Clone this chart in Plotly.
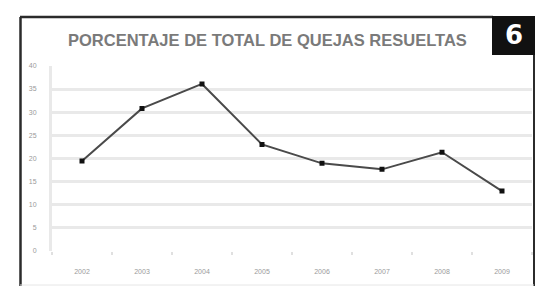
import plotly.graph_objects as go

years = ["2002", "2003", "2004", "2005", "2006", "2007", "2008", "2009"]
porcentaje = [19.4, 30.8, 36.1, 23.0, 18.9, 17.6, 21.3, 12.9]
y_ticks = [0, 5, 10, 15, 20, 25, 30, 35, 40]
title_text = "PORCENTAJE DE TOTAL DE QUEJAS RESUELTAS"
badge_text = "6"

W, H = 544, 289
OFF = 8  # default page body margin
FW, FH = W - OFF, H - OFF


def px(x):
    return (x - OFF) / FW


def py(y):
    return 1 - (y - OFF) / FH


fig = go.Figure()
fig.add_trace(go.Scatter(
    x=years, y=porcentaje, mode="lines+markers",
    line=dict(color="#4a4a4a", width=2),
    marker=dict(symbol="square", size=5, color="#111111"),
    showlegend=False, hoverinfo="skip",
))

frame = "#2b2b2b"
shapes = [
    dict(type="line", xref="paper", yref="paper", x0=px(20.5), x1=px(20.5), y0=py(13), y1=py(289), line=dict(color=frame, width=2.5)),
    dict(type="line", xref="paper", yref="paper", x0=px(20), x1=px(493), y0=py(13), y1=py(13), line=dict(color=frame, width=2.5)),
    dict(type="line", xref="paper", yref="paper", x0=px(534), x1=px(534), y0=py(13), y1=py(289), line=dict(color=frame, width=2)),
    dict(type="line", xref="paper", yref="paper", x0=px(20), x1=px(534), y0=py(288), y1=py(288), line=dict(color="#e6e6e6", width=1)),
    dict(type="rect", xref="paper", yref="paper", x0=px(492), x1=px(535), y0=py(52), y1=py(12), fillcolor="#111111", line=dict(width=0)),
]

annotations = [
    dict(text="<b>" + title_text + "</b>", xref="paper", yref="paper", x=px(267), y=py(37),
         showarrow=False, xanchor="center", yanchor="middle",
         font=dict(family="Liberation Sans Narrow, Arial Narrow, Liberation Sans, Arial", size=16.5, color="#7a7a7a")),
    dict(text="<b>" + badge_text + "</b>", xref="paper", yref="paper", x=px(513.5), y=py(32),
         showarrow=False, xanchor="center", yanchor="middle",
         font=dict(family="DejaVu Sans, Arial", size=26, color="#ffffff")),
]

fig.update_layout(
    width=FW, height=FH,
    margin=dict(l=0, r=0, t=0, b=0),
    paper_bgcolor="#ffffff", plot_bgcolor="#ffffff",
    shapes=shapes, annotations=annotations,
    xaxis=dict(
        domain=[px(52), px(532)], type="category", range=[-0.5, 7.5],
        showgrid=False, zeroline=False, showline=False,
        ticks="outside", tickson="boundaries", ticklen=3, tickwidth=1.5, tickcolor="#e0e0e0",
        ticklabelstandoff=15,
        tickfont=dict(family="Liberation Sans, Arial", size=7, color="#9a9a9a"),
        fixedrange=True,
    ),
    yaxis=dict(
        domain=[py(252.7), py(63.3)], range=[0, 40], tickvals=y_ticks,
        showgrid=True, gridcolor="#e9e9e9", gridwidth=3,
        zeroline=False, showline=True, linecolor="#e9e9e9", linewidth=3,
        ticks="", ticklabelstandoff=11,
        tickfont=dict(family="Liberation Sans, Arial", size=7, color="#9a9a9a"),
        fixedrange=True,
    ),
)

fig.write_html("out.html")
